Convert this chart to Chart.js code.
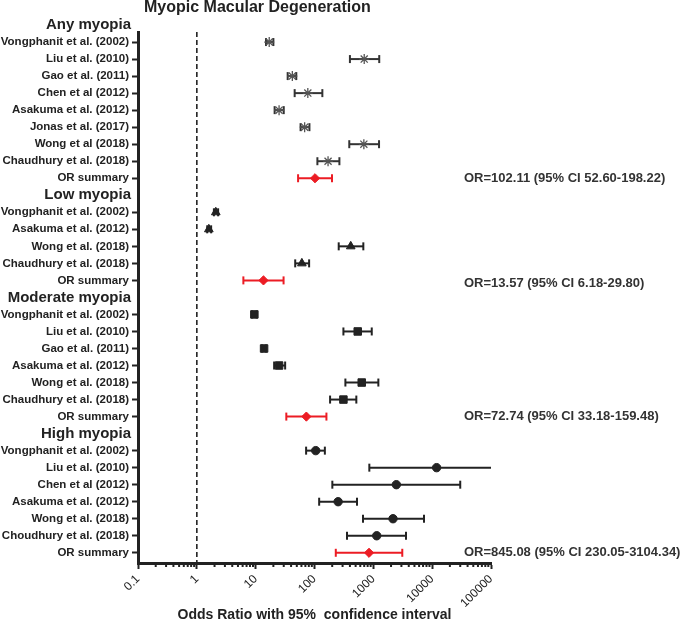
<!DOCTYPE html>
<html>
<head>
<meta charset="utf-8">
<script src="https://cdn.jsdelivr.net/npm/chart.js@4.4.1/dist/chart.umd.min.js"></script>
<style>
  html, body { margin: 0; padding: 0; background: #fff; }
  #wrap { width: 682px; height: 623px; position: relative; }
</style>
</head>
<body>
<div id="wrap"><canvas id="chart"></canvas></div>
<script>
const chartTitle = 'Myopic Macular Degeneration';
const xTitle = 'Odds Ratio with 95%  confidence interval';
const groupNames = ['Any myopia', 'Low myopia', 'Moderate myopia', 'High myopia'];

const anyStudies = ['Vongphanit et al. (2002)', 'Liu et al. (2010)', 'Gao et al. (2011)', 'Chen et al (2012)', 'Asakuma et al. (2012)', 'Jonas et al. (2017)', 'Wong et al (2018)', 'Chaudhury et al. (2018)', 'OR summary'];
const anyOR = [17, 700, 42, 77, 25, 68, 690, 170, 102.11];
const anyLower = [15, 400, 35, 46, 21, 58, 390, 112, 52.60];
const anyUpper = [20, 1260, 49, 136, 30, 82, 1250, 265, 198.22];

const lowStudies = ['Vongphanit et al. (2002)', 'Asakuma et al. (2012)', 'Wong et al. (2018)', 'Chaudhury et al. (2018)', 'OR summary'];
const lowOR = [2.1, 1.6, 413, 61, 13.57];
const lowLower = [1.95, 1.5, 258, 47, 6.18];
const lowUpper = [2.3, 1.75, 676, 81, 29.80];

const modStudies = ['Vongphanit et al. (2002)', 'Liu et al. (2010)', 'Gao et al. (2011)', 'Asakuma et al. (2012)', 'Wong et al. (2018)', 'Chaudhury et al. (2018)', 'OR summary'];
const modOR = [9.5, 543, 13.9, 25, 635, 310, 72.74];
const modLower = [8.7, 310, 12.8, 20.6, 335, 184, 33.18];
const modUpper = [10.4, 940, 15, 31.7, 1217, 514, 159.48];

const highStudies = ['Vongphanit et al. (2002)', 'Liu et al. (2010)', 'Chen et al (2012)', 'Asakuma et al. (2012)', 'Wong et al. (2018)', 'Choudhury et al. (2018)', 'OR summary'];
const highOR = [105, 11900, 2460, 252, 2160, 1142, 845.08];
const highLower = [72, 855, 201, 120, 668, 357, 230.05];
const highUpper = [150, 110000, 30000, 528, 7260, 3590, 3104.34];

const summaryTexts = [
  'OR=102.11 (95% CI 52.60-198.22)',
  'OR=13.57 (95% CI 6.18-29.80)',
  'OR=72.74 (95% CI 33.18-159.48)',
  'OR=845.08 (95% CI 230.05-3104.34)'
];
const xTicks = [0.1, 1, 10, 100, 1000, 10000, 100000];
const minorSteps = [2, 3, 4, 5, 6, 7, 8, 9];

const FONT = 'Arial, "Liberation Sans", sans-serif';
const INK = '#222';
const RED = '#ec1c24';

const groups = [
  { name: groupNames[0], labels: anyStudies, or: anyOR, lo: anyLower, hi: anyUpper, marker: 'star', radius: 5, color: '#555' },
  { name: groupNames[1], labels: lowStudies, or: lowOR, lo: lowLower, hi: lowUpper, marker: 'triangle', radius: 5, color: INK },
  { name: groupNames[2], labels: modStudies, or: modOR, lo: modLower, hi: modUpper, marker: 'rect', radius: 5.3, color: INK },
  { name: groupNames[3], labels: highStudies, or: highOR, lo: highLower, hi: highUpper, marker: 'circle', radius: 4.2, color: INK }
];

// lay the rows out top to bottom: a header slot, then one slot per study
const headers = [];
const rows = [];
let pos = 0;
groups.forEach((g, gi) => {
  headers.push({ name: g.name, pos: pos++ });
  g.labels.forEach((label, i) => {
    rows.push({ label, pos: pos++, or: g.or[i], lo: g.lo[i], hi: g.hi[i], group: gi, summary: label === 'OR summary' });
  });
});
const labelByPos = {};
rows.forEach(r => { labelByPos[r.pos] = r.label; });

const Y_MIN = 0.41;
const Y_MAX = 31.6;

const datasets = [];

// markers
groups.forEach((g, gi) => {
  const pts = rows.filter(r => r.group === gi && !r.summary);
  datasets.push({
    data: pts.map(r => ({ x: r.or, y: r.pos })),
    pointStyle: g.marker,
    pointRadius: g.radius,
    pointBackgroundColor: g.color,
    pointBorderColor: g.color,
    pointBorderWidth: g.marker === 'star' ? 1.3 : 1,
    showLine: false,
    order: 0
  });
});
const summaryRows = rows.filter(r => r.summary);
datasets.push({
  data: summaryRows.map(r => ({ x: r.or, y: r.pos })),
  pointStyle: 'rectRot',
  pointRadius: 4.6,
  pointBackgroundColor: RED,
  pointBorderColor: RED,
  pointBorderWidth: 1,
  showLine: false,
  order: 0
});

// confidence interval bars with end caps
rows.forEach(r => {
  const c = r.summary ? RED : (r.group === 0 ? '#333' : INK);
  datasets.push({
    data: [{ x: r.lo, y: r.pos }, { x: r.hi, y: r.pos }],
    showLine: true,
    borderColor: c,
    borderWidth: 2,
    pointStyle: 'line',
    rotation: 90,
    pointRadius: 4,
    pointBorderWidth: 2,
    pointBorderColor: c,
    clip: 0,
    order: 1
  });
});

// line of no effect at OR = 1
datasets.push({
  data: [{ x: 1, y: Y_MIN }, { x: 1, y: Y_MAX }],
  showLine: true,
  borderColor: INK,
  borderWidth: 1.6,
  borderDash: [5, 3],
  pointRadius: 0,
  order: 2
});

const decorPlugin = {
  id: 'decor',
  afterDraw(chart) {
    const ctx = chart.ctx;
    const xs = chart.scales.x;
    const ys = chart.scales.y;
    ctx.save();
    ctx.fillStyle = INK;
    ctx.textBaseline = 'middle';

    ctx.font = 'bold 16px ' + FONT;
    ctx.textAlign = 'left';
    ctx.fillText(chartTitle, 144, 8);

    ctx.font = 'bold 15px ' + FONT;
    ctx.textAlign = 'right';
    headers.forEach(h => ctx.fillText(h.name, 131, ys.getPixelForValue(h.pos)));

    ctx.font = 'bold 13px ' + FONT;
    ctx.fillStyle = '#333';
    ctx.textAlign = 'left';
    summaryRows.forEach((r, i) => {
      ctx.fillText(summaryTexts[i], 464, ys.getPixelForValue(r.pos) + (i === 1 ? 3 : 0));
    });

    // minor log ticks
    ctx.strokeStyle = INK;
    ctx.lineWidth = 2;
    xTicks.slice(0, -1).forEach(d => {
      minorSteps.forEach(m => {
        const px = xs.getPixelForValue(d * m);
        ctx.beginPath();
        ctx.moveTo(px, xs.top);
        ctx.lineTo(px, xs.top + 4);
        ctx.stroke();
      });
    });

    ctx.fillStyle = INK;
    ctx.font = 'bold 14px ' + FONT;
    ctx.textAlign = 'center';
    ctx.fillText(xTitle, (xs.left + xs.right) / 2, 615);
    ctx.restore();
  }
};

new Chart(document.getElementById('chart'), {
  type: 'scatter',
  data: { datasets },
  plugins: [decorPlugin],
  options: {
    responsive: true,
    maintainAspectRatio: false,
    animation: false,
    layout: { padding: { left: 0, top: 32, right: 191, bottom: 0 } },
    plugins: { legend: { display: false }, tooltip: { enabled: false } },
    scales: {
      x: {
        type: 'logarithmic',
        min: 0.1,
        max: 100000,
        afterBuildTicks: s => { s.ticks = xTicks.map(v => ({ value: v })); },
        afterFit: s => { s.height = 60; },
        border: { display: true, color: INK, width: 3 },
        grid: { drawOnChartArea: false, drawTicks: true, tickLength: 6, tickWidth: 2, tickColor: INK },
        ticks: {
          autoSkip: false,
          minRotation: 45,
          maxRotation: 45,
          padding: 3,
          color: INK,
          font: { family: FONT, size: 12 },
          callback: v => String(v)
        }
      },
      y: {
        type: 'linear',
        reverse: true,
        min: Y_MIN,
        max: Y_MAX,
        afterBuildTicks: s => { s.ticks = rows.map(r => ({ value: r.pos })); },
        afterFit: s => { s.width = 138; },
        border: { display: true, color: INK, width: 3 },
        grid: { drawOnChartArea: false, drawTicks: true, tickLength: 6, tickWidth: 2, tickColor: INK },
        ticks: {
          autoSkip: false,
          padding: 3,
          color: INK,
          font: { family: FONT, size: 11.5, weight: 'bold' },
          callback: v => labelByPos[v] || ''
        }
      }
    }
  }
});
</script>
</body>
</html>
